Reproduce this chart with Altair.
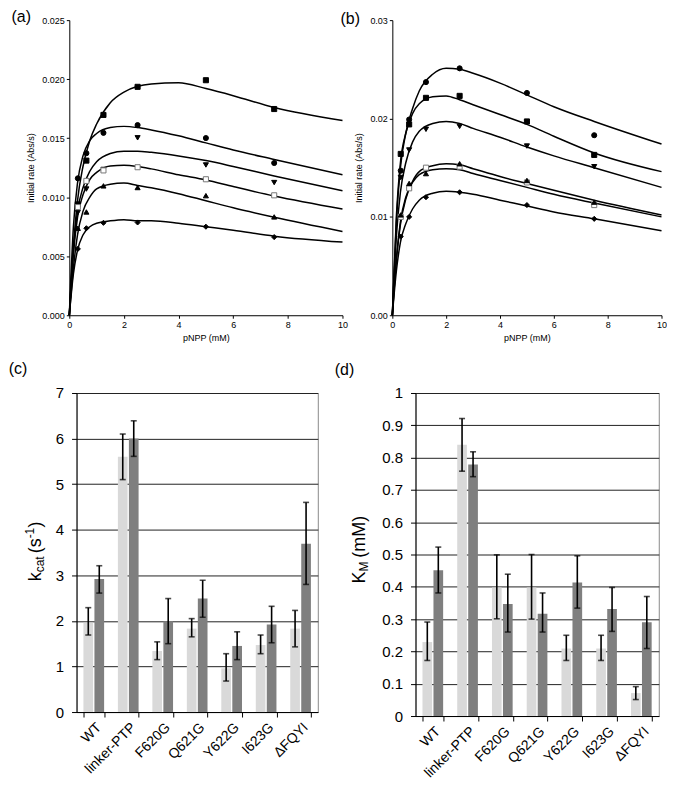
import altair as alt
import pandas as pd

FONT = "Liberation Sans"

# ---------------- panel (a) / (b) data ----------------
series = ["sq", "ci", "td", "os", "tu", "di"]
shapes = ["square", "circle", "triangle-down", "square", "triangle-up", "diamond"]
fills = ["black", "black", "black", "white", "black", "black"]
strokes = ["black", "black", "black", "#777777", "black", "black"]

x_pts = [0.3125, 0.625, 1.25, 2.5, 5, 7.5]
a_pts = {
    "sq": [0.00939, 0.0131, 0.01697, 0.01935, 0.01991, 0.01747],
    "ci": [0.0116, 0.01373, 0.01545, 0.01611, 0.01501, 0.0129],
    "td": [0.0087, 0.01069, 0.01235, 0.01503, 0.01273, 0.01124],
    "os": [0.00916, 0.01138, 0.01227, 0.01254, 0.01152, 0.01016],
    "tu": [0.00737, 0.00875, 0.01096, 0.01082, 0.01013, 0.00833],
    "di": [0.00562, 0.00737, 0.00783, 0.00786, 0.0075, 0.00662],
}
b_pts = {
    "ci": [0.0147, 0.0199, 0.0237, 0.0251, 0.0226, 0.0183],
    "sq": [0.0164, 0.0194, 0.0221, 0.0223, 0.0197, 0.0163],
    "td": [0.0140, 0.0168, 0.0189, 0.0192, 0.0172, 0.0151],
    "tu": [0.0102, 0.0134, 0.0144, 0.0154, 0.0137, 0.0115],
    "os": [0.0100, 0.0129, 0.0150, 0.0151, 0.0135, 0.0112],
    "di": [0.0080, 0.0100, 0.0120, 0.0125, 0.0112, 0.0098],
}

x_curve = [0, 0.15, 0.3, 0.5, 0.75, 1, 1.5, 2, 2.5, 3, 4, 5, 6, 7.5, 10]
a_curves = {
    "sq": [0, 0.0058, 0.0097, 0.0126, 0.0148, 0.0162, 0.0180, 0.0189, 0.0194, 0.0196, 0.0197, 0.0192, 0.0186, 0.0176, 0.0165],
    "ci": [0, 0.0075, 0.0112, 0.0135, 0.0148, 0.0154, 0.0159, 0.0160, 0.0159, 0.0157, 0.0152, 0.0146, 0.0140, 0.0132, 0.0119],
    "td": [0, 0.0055, 0.0088, 0.0108, 0.0122, 0.0130, 0.0137, 0.0139, 0.0139, 0.0138, 0.0135, 0.0131, 0.0126, 0.0118, 0.01055],
    "os": [0, 0.0052, 0.0083, 0.0102, 0.0115, 0.0121, 0.01265, 0.0127, 0.0126, 0.0124, 0.0119, 0.01146, 0.0109, 0.0101, 0.0090],
    "tu": [0, 0.0040, 0.0068, 0.0088, 0.0100, 0.0107, 0.0111, 0.0112, 0.0110, 0.0108, 0.0103, 0.0097, 0.0091, 0.0083, 0.0071],
    "di": [0, 0.0035, 0.0055, 0.0068, 0.0075, 0.0078, 0.0080, 0.0081, 0.0080, 0.0080, 0.0078, 0.0075, 0.0072, 0.0067, 0.0062],
}
b_curves = {
    "ci": [0, 0.0095, 0.0150, 0.0185, 0.0210, 0.0228, 0.0245, 0.0251, 0.0250, 0.0246, 0.0236, 0.0224, 0.0212, 0.0197, 0.0174],
    "sq": [0, 0.0100, 0.0155, 0.0185, 0.0205, 0.0215, 0.0222, 0.0223, 0.0219, 0.0214, 0.0204, 0.0194, 0.0182, 0.0165, 0.0146],
    "td": [0, 0.0080, 0.0125, 0.0155, 0.0176, 0.0187, 0.0195, 0.0197, 0.0195, 0.0190, 0.0181, 0.0171, 0.0162, 0.0150, 0.0130],
    "tu": [0, 0.0055, 0.0092, 0.0118, 0.0136, 0.0146, 0.0152, 0.0154, 0.0153, 0.0149, 0.0141, 0.0134, 0.0127, 0.0117, 0.0102],
    "os": [0, 0.0058, 0.0095, 0.0120, 0.0135, 0.0143, 0.0148, 0.0149, 0.0148, 0.0144, 0.0137, 0.0130, 0.0123, 0.0114, 0.0100],
    "di": [0, 0.0045, 0.0074, 0.0093, 0.0108, 0.0117, 0.0124, 0.0126, 0.0125, 0.0123, 0.0117, 0.0111, 0.0105, 0.0098, 0.0086],
}

# ---------------- panel (c) / (d) data ----------------
mutants = ["WT", "linker-PTP", "F620G", "Q621G", "Y622G", "I623G", "ΔFQYI"]
groups = ["light", "dark"]

kcat_light = [1.96, 5.60, 1.34, 1.83, 0.96, 1.47, 1.83]
kcat_light_lo = [1.69, 5.10, 1.15, 1.65, 0.68, 1.28, 1.43]
kcat_light_hi = [2.29, 6.10, 1.54, 2.05, 1.28, 1.69, 2.23]
kcat_dark = [2.92, 6.00, 1.99, 2.49, 1.45, 1.92, 3.69]
kcat_dark_lo = [2.61, 5.61, 1.50, 2.08, 1.15, 1.52, 2.80]
kcat_dark_hi = [3.21, 6.39, 2.49, 2.89, 1.76, 2.32, 4.60]

km_light = [0.229, 0.840, 0.398, 0.398, 0.209, 0.209, 0.071]
km_light_lo = [0.172, 0.758, 0.301, 0.300, 0.172, 0.172, 0.051]
km_light_hi = [0.291, 0.921, 0.499, 0.500, 0.250, 0.250, 0.091]
km_dark = [0.451, 0.779, 0.347, 0.317, 0.413, 0.331, 0.290]
km_dark_lo = [0.381, 0.741, 0.260, 0.260, 0.334, 0.262, 0.209]
km_dark_hi = [0.523, 0.818, 0.439, 0.381, 0.496, 0.398, 0.370]

bar_colors = ["#d9d9d9", "#7f7f7f"]


def text_piece(t, x, y, size, angle=0, align="left", baseline="alphabetic"):
    kw = dict(align=align, baseline=baseline, fontSize=size, font=FONT, color="black")
    if angle:
        kw["angle"] = angle
    return alt.Chart(pd.DataFrame({"t": [t]})).mark_text(**kw).encode(
        text="t:N", x=alt.value(x), y=alt.value(y)
    )


def kinetics_panel(pts, curves, ymax, yvals, yfmt, label, label_x, label_y, w, h):
    rows_c = []
    for s in series:
        for xv, yv in zip(x_curve, curves[s]):
            rows_c.append({"s": s, "x": xv, "y": yv})
    rows_p = []
    for s in series:
        for xv, yv in zip(x_pts, pts[s]):
            rows_p.append({"s": s, "x": xv, "y": yv})
    dc = pd.DataFrame(rows_c)
    dp = pd.DataFrame(rows_p)
    xs = alt.Scale(domain=[0, 10], nice=False)
    ys = alt.Scale(domain=[0, ymax], nice=False)
    xvals = [0, 2, 4, 6, 8, 10]
    xax = alt.Axis(values=xvals, tickCount=len(xvals), title="pNPP (mM)", grid=False,
                   labelFontSize=9, titleFontSize=9, titleFontWeight="normal",
                   tickSize=3, domainColor="black", tickColor="black",
                   labelColor="black", titleColor="black", labelFlush=False, titlePadding=4)
    yax = alt.Axis(values=yvals, tickCount=len(yvals), format=yfmt, title="Initial rate (Abs/s)",
                   grid=False, labelFontSize=9, titleFontSize=9, titleFontWeight="normal",
                   tickSize=3, domainColor="black", tickColor="black",
                   labelColor="black", titleColor="black", labelFlush=False, titlePadding=6)
    lines = alt.Chart(dc).mark_line(interpolate="monotone", color="black", strokeWidth=1.5).encode(
        x=alt.X("x:Q", scale=xs, axis=xax),
        y=alt.Y("y:Q", scale=ys, axis=yax),
        detail="s:N",
    )
    points = alt.Chart(dp).mark_point(filled=True, size=26, strokeWidth=1, opacity=1).encode(
        x=alt.X("x:Q", scale=xs),
        y=alt.Y("y:Q", scale=ys),
        shape=alt.Shape("s:N", scale=alt.Scale(domain=series, range=shapes), legend=None),
        fill=alt.Fill("s:N", scale=alt.Scale(domain=series, range=fills), legend=None),
        stroke=alt.Stroke("s:N", scale=alt.Scale(domain=series, range=strokes), legend=None),
    )
    lab = text_piece(label, label_x, label_y, 16, baseline="top")
    return alt.layer(lines, points, lab).properties(
        width=w, height=h, view=alt.ViewBackground(strokeWidth=0)
    )


def bar_panel(light, light_lo, light_hi, dark, dark_lo, dark_hi, ymax, yvals, yfmt,
              label, label_x, label_y, title_pieces, w, h):
    rows = []
    for i, m in enumerate(mutants):
        rows.append({"m": m, "g": "light", "v": light[i], "lo": light_lo[i], "hi": light_hi[i]})
        rows.append({"m": m, "g": "dark", "v": dark[i], "lo": dark_lo[i], "hi": dark_hi[i]})
    df = pd.DataFrame(rows)
    xs = alt.Scale(domain=mutants, paddingInner=0.4, paddingOuter=0.2)
    xo = alt.Scale(domain=groups, paddingInner=0.12, paddingOuter=0)
    ys = alt.Scale(domain=[0, ymax], nice=False)
    xax = alt.Axis(title=None, labelAngle=-45, labelFontSize=14, tickBand="extent",
                   domainColor="black", tickColor="black", tickSize=5, labelColor="black",
                   labelPadding=3, grid=False, labelOverlap=False)
    yax = alt.Axis(values=yvals, tickCount=len(yvals), format=yfmt, title=None, grid=True,
                   gridColor="#222222", gridWidth=1, domainColor="black", tickColor="black",
                   tickSize=5, labelFontSize=15, labelColor="black", labelPadding=8,
                   labelOverlap=False)
    base = alt.Chart(df)
    bars = base.mark_bar().encode(
        x=alt.X("m:N", scale=xs, axis=xax, sort=mutants),
        xOffset=alt.XOffset("g:N", scale=xo, sort=groups),
        y=alt.Y("v:Q", scale=ys, axis=yax),
        color=alt.Color("g:N", scale=alt.Scale(domain=groups, range=bar_colors), legend=None),
    )
    rule = base.mark_rule(color="black", strokeWidth=1.6).encode(
        x=alt.X("m:N", scale=xs, sort=mutants),
        xOffset=alt.XOffset("g:N", scale=xo, sort=groups),
        y=alt.Y("lo:Q", scale=ys),
        y2="hi:Q",
    )
    cap_lo = base.mark_tick(color="black", size=6, thickness=1.6, orient="horizontal").encode(
        x=alt.X("m:N", scale=xs, sort=mutants),
        xOffset=alt.XOffset("g:N", scale=xo, sort=groups),
        y=alt.Y("lo:Q", scale=ys),
    )
    cap_hi = base.mark_tick(color="black", size=6, thickness=1.6, orient="horizontal").encode(
        x=alt.X("m:N", scale=xs, sort=mutants),
        xOffset=alt.XOffset("g:N", scale=xo, sort=groups),
        y=alt.Y("hi:Q", scale=ys),
    )
    lab = text_piece(label, label_x, label_y, 16, baseline="top")
    pieces = [text_piece(t, px, py, sz, angle=270) for (t, px, py, sz) in title_pieces]
    return alt.layer(bars, rule, cap_lo, cap_hi, lab, *pieces).properties(
        width=w, height=h, view=alt.ViewBackground(stroke="#8a8a8a", strokeWidth=1)
    )


top_h = 296
pa = kinetics_panel(a_pts, a_curves, 0.025, [0, 0.005, 0.01, 0.015, 0.02, 0.025], ".3f",
                    "(a)", -58, -11, 274, top_h)
pb = kinetics_panel(b_pts, b_curves, 0.03, [0, 0.01, 0.02, 0.03], ".2f",
                    "(b)", -52, -9, 270, top_h)

c_h = 320
d_h = 324
c0 = 0.59 * c_h
c_title = [
    ("k", -36, c0, 18),
    ("cat", -33, c0 - 9, 12),
    ("(s", -36, c0 - 28, 18),
    ("-1", -43, c0 - 43, 12),
    (")", -36, c0 - 54, 18),
]
d0 = 0.59 * d_h
d_title = [
    ("K", -51, d0, 18),
    ("M", -48, d0 - 12, 12),
    ("(mM)", -51, d0 - 26, 18),
]
pc = bar_panel(kcat_light, kcat_light_lo, kcat_light_hi, kcat_dark, kcat_dark_lo, kcat_dark_hi,
               7, [0, 1, 2, 3, 4, 5, 6, 7], "d", "(c)", -68, -32, c_title, 242, c_h)
pd_ = bar_panel(km_light, km_light_lo, km_light_hi, km_dark, km_dark_lo, km_dark_hi,
                1, [0, 0.1, 0.2, 0.3, 0.4, 0.5, 0.6, 0.7, 0.8, 0.9, 1], "~g", "(d)", -81, -31,
                d_title, 244, d_h)

top = alt.hconcat(pa, pb, spacing=50, bounds="flush")
bottom = alt.hconcat(pc, pd_, spacing=98, bounds="flush")

chart = alt.vconcat(top, bottom, spacing=18, center=True).properties(padding=0).configure_axis(
    labelFont=FONT, titleFont=FONT
).configure_text(font=FONT).configure_view(strokeWidth=0)

chart.save("out.html", embed_options={"renderer": "svg", "actions": False})
